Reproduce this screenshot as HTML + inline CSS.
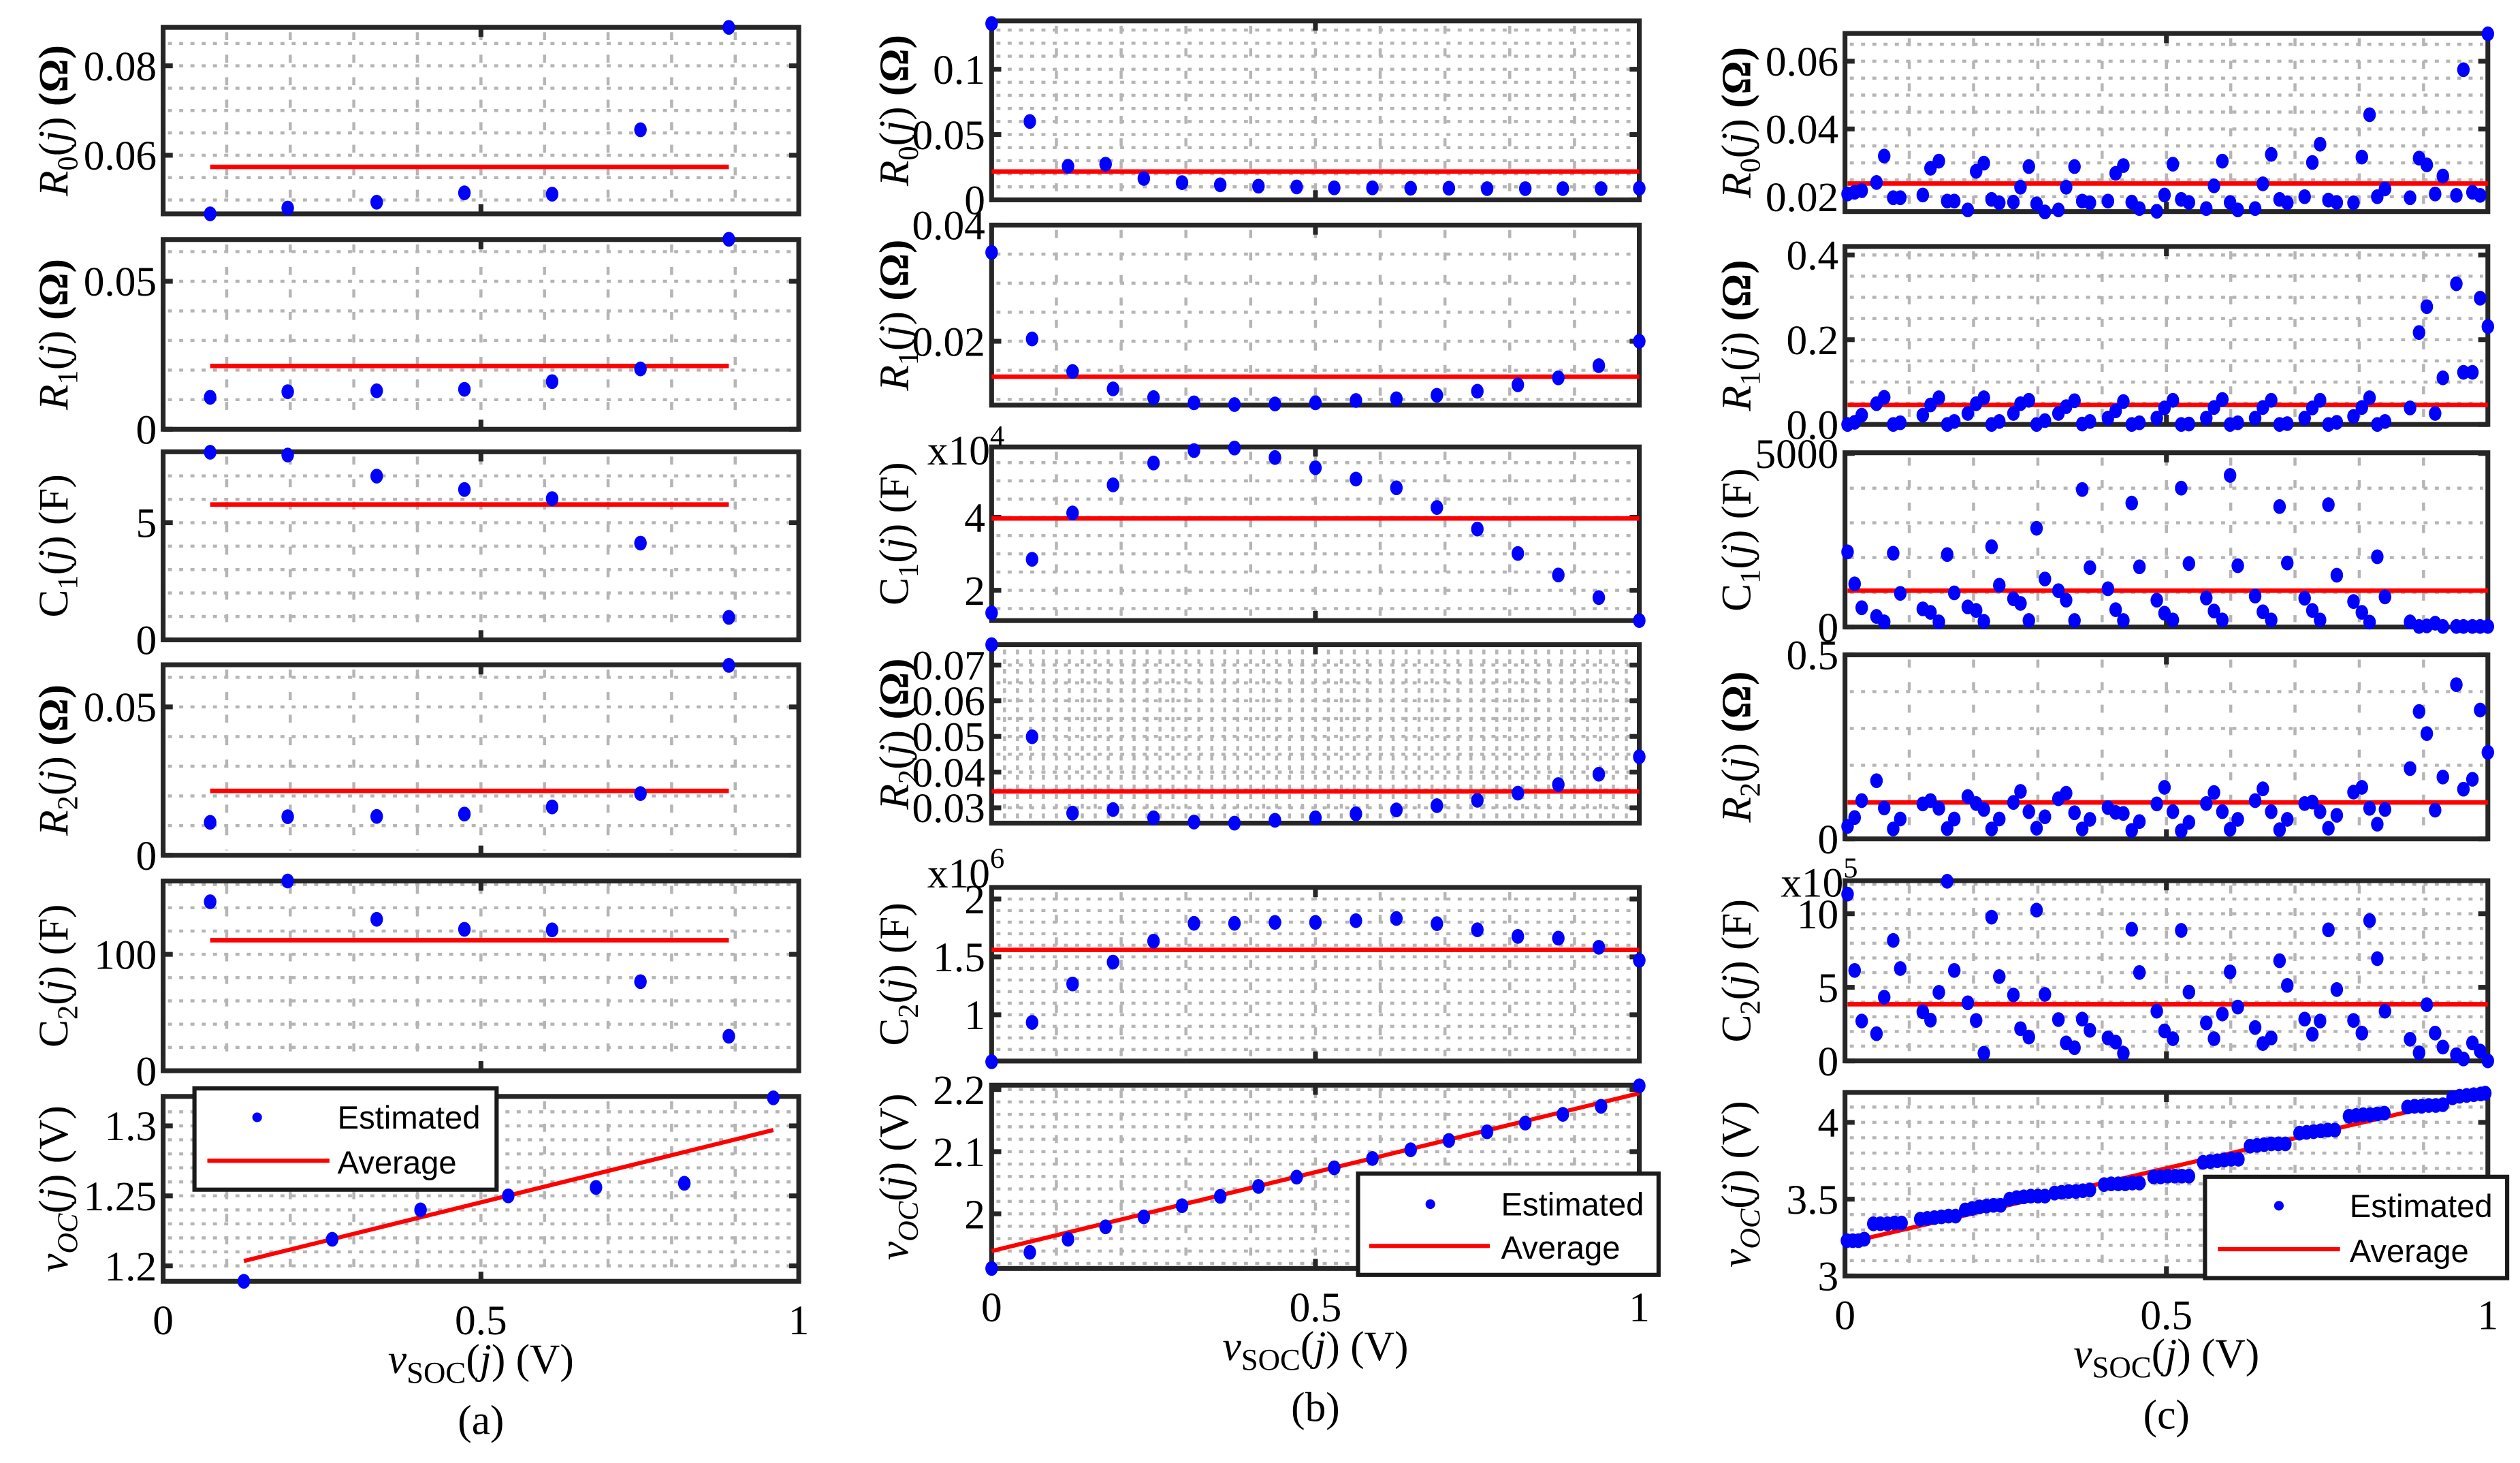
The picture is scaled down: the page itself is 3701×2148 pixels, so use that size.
<!DOCTYPE html>
<html><head><meta charset="utf-8"><title>Parameter estimation figure</title>
<style>
html,body{margin:0;padding:0;background:#fff;}
svg{display:block;}
text{font-family:"Liberation Serif",serif;fill:#000;}
.leg{font-family:"Liberation Sans",sans-serif;font-size:20px;}
</style></head>
<body>
<svg id="fig" xmlns="http://www.w3.org/2000/svg" width="3701" height="2148" viewBox="0 0 1568 910"></svg>
<script>
// ---------- data: column (a) ----------
const xA  = [0.074,0.196,0.336,0.474,0.612,0.751,0.890];
const xA6 = [0.127,0.266,0.405,0.543,0.681,0.820,0.960];
const a1Y = [0.0469,0.0482,0.0495,0.0516,0.0513,0.0657,0.0886];
const a2Y = [0.0108,0.0127,0.0130,0.0135,0.0161,0.0204,0.0642];
const a3Y = [8.01,7.89,6.99,6.42,6.03,4.13,0.96];
const a4Y = [0.0111,0.0130,0.0131,0.0139,0.0163,0.0208,0.0640];
const a5Y = [145.2,163,130.1,121.5,121,76.5,29.6];
const a6Y = [1.189,1.219,1.240,1.250,1.256,1.259,1.320];
const aAvg = [0.0574,0.0214,5.78,0.0217,112.1];
const a6AvgX = [0.127,0.960];
const a6AvgY = [1.2035,1.297];
// ---------- data: column (b) ----------
const xB18 = [0,0.059,0.118,0.176,0.235,0.294,0.353,0.412,0.471,0.529,0.588,0.647,0.706,0.765,0.824,0.882,0.941,1];
const xB17 = [0,0.0625,0.125,0.1875,0.25,0.3125,0.375,0.4375,0.5,0.5625,0.625,0.6875,0.75,0.8125,0.875,0.9375,1];
const b1Y = [0.135,0.060,0.0257,0.0273,0.0164,0.0132,0.0115,0.0105,0.0099,0.0092,0.0092,0.0089,0.0089,0.0086,0.0086,0.0086,0.0086,0.0089];
const b2Y = [0.0353,0.0204,0.0148,0.0118,0.0103,0.0094,0.0091,0.0092,0.0094,0.0098,0.0101,0.0107,0.0114,0.0125,0.0137,0.0158,0.0200];
const b3Y = [1.38,2.85,4.12,4.89,5.49,5.83,5.90,5.64,5.36,5.05,4.81,4.27,3.68,3.01,2.42,1.80,1.17];
const b4Y = [0.0757,0.0499,0.0285,0.0295,0.0272,0.0260,0.0257,0.0265,0.0272,0.0283,0.0294,0.0306,0.0321,0.0341,0.0365,0.0394,0.0443];
const b5Y = [0.594,0.934,1.266,1.455,1.636,1.79,1.79,1.798,1.798,1.813,1.832,1.787,1.734,1.677,1.662,1.583,1.47];
const b6Y = [1.912,1.938,1.959,1.979,1.995,2.013,2.028,2.044,2.059,2.074,2.089,2.103,2.118,2.132,2.146,2.160,2.173,2.206];
const bAvg = [0.0217,0.0139,3.97,0.0346,1.56];
const b6AvgX = [0,1];
const b6AvgY = [1.940,2.194];
// ---------- data: column (c) ----------
const xC = [0.004,0.015,0.026,0.049,0.061,0.075,0.086,0.121,0.133,0.146,0.159,0.170,0.191,0.204,0.216,0.228,0.240,0.262,0.273,0.286,0.298,0.311,0.332,0.344,0.357,0.369,0.381,0.409,0.421,0.433,0.446,0.458,0.485,0.497,0.510,0.523,0.535,0.562,0.574,0.587,0.599,0.611,0.638,0.650,0.663,0.676,0.688,0.715,0.727,0.739,0.752,0.765,0.791,0.804,0.816,0.828,0.840,0.879,0.893,0.905,0.918,0.930,0.951,0.962,0.976,0.988,1.0];
const c1Y = [0.0208,0.0213,0.0218,0.0242,0.032,0.0197,0.0197,0.0205,0.0284,0.0305,0.0187,0.0187,0.0161,0.0275,0.0299,0.0192,0.0182,0.0184,0.0228,0.0289,0.0179,0.0155,0.0161,0.0228,0.0289,0.0187,0.0182,0.0187,0.0269,0.0292,0.0184,0.0165,0.0157,0.0205,0.0296,0.0192,0.0183,0.0165,0.0232,0.0305,0.0183,0.0161,0.0165,0.0238,0.0325,0.0192,0.0182,0.0200,0.0301,0.0355,0.0190,0.0183,0.0182,0.0317,0.0442,0.0200,0.0223,0.0197,0.0314,0.0294,0.0208,0.0261,0.0204,0.0575,0.0213,0.0204,0.0681];
const c2Y = [0,0.005,0.022,0.049,0.064,0,0.004,0.022,0.046,0.063,0,0.007,0.026,0.049,0.063,0,0.007,0.026,0.049,0.057,0,0.009,0.026,0.042,0.056,0.001,0.007,0.015,0.032,0.054,0,0.004,0.015,0.039,0.057,0,0.001,0.015,0.040,0.059,0,0.004,0.015,0.040,0.057,0,0.002,0.015,0.039,0.057,0,0.005,0.019,0.040,0.063,0,0.007,0.039,0.217,0.278,0.026,0.110,0.332,0.123,0.123,0.298,0.231];
const c3Y = [2164,1242,555,305,148,2125,969,523,422,148,2086,984,578,477,164,2313,1203,813,680,188,2844,1383,1047,773,188,3961,1711,1102,500,188,3570,1734,773,398,203,4000,1828,836,461,203,4367,1766,891,438,203,3469,1844,828,477,203,3523,1492,734,422,141,2023,867,148,16,31,109,16,16,16,16,16,16];
const c4Y = [0.034,0.058,0.104,0.158,0.084,0.027,0.054,0.095,0.104,0.083,0.028,0.054,0.115,0.096,0.080,0.027,0.054,0.099,0.129,0.074,0.029,0.060,0.109,0.124,0.071,0.027,0.053,0.085,0.072,0.069,0.023,0.047,0.095,0.140,0.074,0.022,0.045,0.096,0.126,0.074,0.026,0.053,0.104,0.136,0.074,0.025,0.053,0.096,0.100,0.074,0.029,0.064,0.127,0.140,0.083,0.040,0.080,0.191,0.346,0.286,0.078,0.168,0.419,0.135,0.162,0.350,0.235];
const c5Y = [11.34,6.15,2.71,1.85,4.33,8.19,6.28,3.34,2.77,4.66,12.21,6.15,3.95,2.75,0.52,9.77,5.73,4.48,2.19,1.62,10.25,4.52,2.81,1.22,0.90,2.84,2.08,1.56,1.28,0.52,8.95,6.01,3.38,2.04,1.51,8.87,4.68,2.58,1.51,3.19,6.05,3.66,2.27,1.18,1.56,6.81,5.13,2.84,1.81,2.71,8.91,4.85,2.75,1.89,9.54,6.95,3.38,1.47,0.55,3.82,1.89,0.94,0.42,0.13,1.22,0.67,0];
const xC6 = [0.003,0.012,0.021,0.030,0.044,0.055,0.066,0.077,0.088,0.117,0.128,0.139,0.150,0.161,0.172,0.187,0.198,0.209,0.220,0.231,0.242,0.256,0.267,0.278,0.289,0.300,0.311,0.326,0.337,0.348,0.359,0.370,0.381,0.403,0.414,0.425,0.436,0.447,0.458,0.480,0.491,0.502,0.513,0.524,0.535,0.557,0.568,0.579,0.590,0.601,0.612,0.630,0.641,0.652,0.663,0.674,0.685,0.707,0.718,0.729,0.740,0.751,0.762,0.784,0.795,0.806,0.817,0.828,0.839,0.875,0.886,0.897,0.908,0.919,0.930,0.945,0.956,0.967,0.978,0.989,0.996];
const c6Y = [3.23,3.23,3.23,3.24,3.34,3.34,3.34,3.345,3.345,3.37,3.375,3.38,3.385,3.39,3.39,3.43,3.44,3.45,3.455,3.46,3.46,3.50,3.51,3.515,3.52,3.52,3.52,3.54,3.545,3.55,3.55,3.555,3.56,3.595,3.60,3.60,3.60,3.605,3.605,3.645,3.645,3.65,3.65,3.65,3.65,3.74,3.745,3.75,3.755,3.76,3.76,3.845,3.85,3.855,3.86,3.86,3.86,3.93,3.935,3.94,3.945,3.95,3.95,4.04,4.045,4.05,4.05,4.055,4.06,4.10,4.105,4.105,4.11,4.11,4.115,4.16,4.17,4.175,4.18,4.185,4.19];
const cAvg = [0.0239,0.046,1047,0.099,3.85];
const c6AvgX = [0,1];
const c6AvgY = [3.213,4.19];
// ---------- tick labels ----------
const xTickVals = [0,0.5,1];
const xTickLabels = ['0','0.5','1'];

// ---------- layout ----------
const NS = 'http://www.w3.org/2000/svg';
const svg = document.getElementById('fig');
const COLS = {
  A:{x0:101.5,x1:497,lx:33,letter:'(a)'},
  B:{x0:617,x1:1020,lx:556,letter:'(b)'},
  C:{x0:1148,x1:1548,lx:1080,letter:'(c)'}
};
const LBL = {
  R0:'<tspan font-style="italic">R</tspan><tspan font-size="18" dy="6">0</tspan><tspan dy="-6">(</tspan><tspan font-style="italic">j</tspan>) <tspan font-weight="bold">(Ω)</tspan>',
  R1:'<tspan font-style="italic">R</tspan><tspan font-size="18" dy="6">1</tspan><tspan dy="-6">(</tspan><tspan font-style="italic">j</tspan>) <tspan font-weight="bold">(Ω)</tspan>',
  R2:'<tspan font-style="italic">R</tspan><tspan font-size="18" dy="6">2</tspan><tspan dy="-6">(</tspan><tspan font-style="italic">j</tspan>) <tspan font-weight="bold">(Ω)</tspan>',
  C1:'C<tspan font-size="18" dy="6">1</tspan><tspan dy="-6">(</tspan><tspan font-style="italic">j</tspan>)  (F)',
  C2:'C<tspan font-size="18" dy="6">2</tspan><tspan dy="-6">(</tspan><tspan font-style="italic">j</tspan>)  (F)',
  V:'<tspan font-style="italic">v</tspan><tspan font-size="18" font-style="italic" dy="6">OC</tspan><tspan dy="-6">(</tspan><tspan font-style="italic">j</tspan>)  (V)'
};
const panels = [
 {id:'a-r0',col:'A',top:17,bot:133,ymin:0.0469,ymax:0.0886,ticks:[0.06,0.08],tl:['0.06','0.08'],minor:0.005,xs:xA,ys:a1Y,avg:aAvg[0],lab:'R0'},
 {id:'a-r1',col:'A',top:149,bot:267,ymin:0,ymax:0.0641,ticks:[0,0.05],tl:['0','0.05'],minor:0.01,xs:xA,ys:a2Y,avg:aAvg[1],lab:'R1'},
 {id:'a-c1',col:'A',top:281,bot:398,ymin:0,ymax:8.03,ticks:[0,5],tl:['0','5'],minor:1,xs:xA,ys:a3Y,avg:aAvg[2],lab:'C1'},
 {id:'a-r2',col:'A',top:413.5,bot:532,ymin:0,ymax:0.0642,ticks:[0,0.05],tl:['0','0.05'],minor:0.01,xs:xA,ys:a4Y,avg:aAvg[3],lab:'R2'},
 {id:'a-c2',col:'A',top:548,bot:666,ymin:0,ymax:163,ticks:[0,100],tl:['0','100'],minor:20,xs:xA,ys:a5Y,avg:aAvg[4],lab:'C2'},
 {id:'a-voc',col:'A',top:682,bot:797,ymin:1.189,ymax:1.321,ticks:[1.2,1.25,1.3],tl:['1.2','1.25','1.3'],minor:0.01,xs:xA6,ys:a6Y,avgX:a6AvgX,avgY:a6AvgY,lab:'V',bottom:true},
 {id:'b-r0',col:'B',top:13,bot:124.3,ymin:0,ymax:0.137,ticks:[0,0.05,0.1],tl:['0','0.05','0.1'],minor:0.01,xs:xB18,ys:b1Y,avg:bAvg[0],lab:'R0'},
 {id:'b-r1',col:'B',top:140,bot:252,ymin:0.009,ymax:0.04,ticks:[0.02,0.04],tl:['0.02','0.04'],minor:0.005,xs:xB17,ys:b2Y,avg:bAvg[1],lab:'R1'},
 {id:'b-c1',col:'B',top:278,bot:386,ymin:1.17,ymax:5.93,ticks:[2,4],tl:['2','4'],minor:0.5,xs:xB17,ys:b3Y,avg:bAvg[2],lab:'C1',mult:['x10','4'],multDy:11},
 {id:'b-r2',col:'B',top:401,bot:512,ymin:0.0257,ymax:0.0757,ticks:[0.03,0.04,0.05,0.06,0.07],tl:['0.03','0.04','0.05','0.06','0.07'],minor:0.005,xs:xB17,ys:b4Y,avg:bAvg[3],lab:'R2',dense:true},
 {id:'b-c2',col:'B',top:552,bot:660,ymin:0.6,ymax:2.1,ticks:[1,1.5,2],tl:['1','1.5','2'],minor:0.1,xs:xB17,ys:b5Y,avg:bAvg[4],lab:'C2',mult:['x10','6'],multDy:0},
 {id:'b-voc',col:'B',top:675,bot:789,ymin:1.912,ymax:2.207,ticks:[2,2.1,2.2],tl:['2','2.1','2.2'],minor:0.02,xs:xB18,ys:b6Y,avgX:b6AvgX,avgY:b6AvgY,lab:'V',bottom:true},
 {id:'c-r0',col:'C',top:20.8,bot:131.6,ymin:0.0156,ymax:0.0682,ticks:[0.02,0.04,0.06],tl:['0.02','0.04','0.06'],minor:0.005,xs:xC,ys:c1Y,avg:cAvg[0],lab:'R0'},
 {id:'c-r1',col:'C',top:153.3,bot:264,ymin:0,ymax:0.42,ticks:[0,0.2,0.4],tl:['0.0','0.2','0.4'],minor:0.05,xs:xC,ys:c2Y,avg:cAvg[1],lab:'R1'},
 {id:'c-c1',col:'C',top:281.6,bot:390,ymin:0,ymax:5020,ticks:[0,5000],tl:['0','5000'],minor:1000,xs:xC,ys:c3Y,avg:cAvg[2],lab:'C1'},
 {id:'c-r2',col:'C',top:407.3,bot:521.8,ymin:0,ymax:0.5,ticks:[0,0.5],tl:['0','0.5'],minor:0.1,xs:xC,ys:c4Y,avg:cAvg[3],lab:'R2'},
 {id:'c-c2',col:'C',top:547.8,bot:659.9,ymin:0,ymax:12.25,ticks:[0,5,10],tl:['0','5','10'],minor:1,xs:xC,ys:c5Y,avg:cAvg[4],lab:'C2',mult:['x10','5'],multDy:10},
 {id:'c-voc',col:'C',top:679.5,bot:793.7,ymin:3,ymax:4.195,ticks:[3,3.5,4],tl:['3','3.5','4'],minor:0.1,xs:xC6,ys:c6Y,avgX:c6AvgX,avgY:c6AvgY,lab:'V',bottom:true}
];

function mk(tag, parent, attrs){
  const e = document.createElementNS(NS, tag);
  for (const k in attrs) e.setAttribute(k, attrs[k]);
  parent.appendChild(e);
  return e;
}

panels.forEach(function(p){
  const c = COLS[p.col];
  const sx = function(v){ return c.x0 + v*(c.x1-c.x0); };
  const sy = function(v){ return p.bot - (v-p.ymin)/(p.ymax-p.ymin)*(p.bot-p.top); };
  const g = mk('g', svg, {});
  
  

  // grid
  const grid = mk('g', g, {stroke:'#b5b5b5','stroke-width':1.9,fill:'none'});
  
  
  const vstep = p.dense ? 0.02 : 0.1;
  for (let v = vstep; v < 0.999; v += vstep){
    mk('line', grid, {x1:sx(v),x2:sx(v),y1:p.top+3,y2:p.bot-3,'stroke-dasharray':p.dense?'3 3':'5 9'});
  }
  const start = Math.ceil(p.ymin/p.minor - 1e-6)*p.minor;
  for (let v = start; v < p.ymax - 1e-9; v += p.minor){
    const y = sy(v);
    if (y > p.bot-2 || y < p.top+2) continue;
    mk('line', grid, {x1:c.x0+3,x2:c.x1-3,y1:y,y2:y,'stroke-dasharray':'2.5 4.5'});
  }

  // frame
  const fr = mk('rect', g, {x:c.x0,y:p.top,width:c.x1-c.x0,height:p.bot-p.top,fill:'none',stroke:'#262626','stroke-width':3});
  
  
  // tick marks + labels
  p.ticks.forEach(function(t, i){
    const y = sy(t);
    mk('line', g, {x1:c.x0,x2:c.x0+6,y1:y,y2:y,stroke:'#262626','stroke-width':3});
    mk('line', g, {x1:c.x1-6,x2:c.x1,y1:y,y2:y,stroke:'#262626','stroke-width':3});
    const tx = mk('text', g, {x:c.x0-4,y:y+9,'text-anchor':'end','font-size':26});
    tx.textContent = p.tl[i];
    
    
  });
  mk('line', g, {x1:sx(0.5),x2:sx(0.5),y1:p.top,y2:p.top+6,stroke:'#262626','stroke-width':3});
  mk('line', g, {x1:sx(0.5),x2:sx(0.5),y1:p.bot-6,y2:p.bot,stroke:'#262626','stroke-width':3});

  // multiplier
  if (p.mult){
    const mt = mk('text', g, {x:c.x0-40,y:p.top+p.multDy,'font-size':26});
    mt.innerHTML = p.mult[0] + '<tspan font-size="18" dy="-12">' + p.mult[1] + '</tspan>';
    
    
  }

  // y label
  const yl = mk('text', g, {x:0,y:0,'font-size':26,'text-anchor':'middle',transform:'translate(' + (c.lx+9) + ',' + ((p.top+p.bot)/2) + ') rotate(-90)'});
  yl.innerHTML = LBL[p.lab];
  
  

  // average line
  let al;
  if (p.avgX){
    al = mk('line', g, {x1:sx(p.avgX[0]),y1:sy(p.avgY[0]),x2:sx(p.avgX[1]),y2:sy(p.avgY[1]),stroke:'#ff0000','stroke-width':2.6});
  } else {
    al = mk('line', g, {x1:sx(p.xs[0]),y1:sy(p.avg),x2:sx(p.xs[p.xs.length-1]),y2:sy(p.avg),stroke:'#ff0000','stroke-width':2.8});
  }
  
  

  // points
  const n = Math.min(p.xs.length, p.ys.length);
  for (let i = 0; i < n; i++){
    const d = mk('ellipse', g, {cx:sx(p.xs[i]),cy:sy(p.ys[i]),rx:3.9,ry:4.6,fill:'#0000ff'});
    
    
  }

  // bottom x axis labels
  if (p.bottom){
    xTickVals.forEach(function(v, i){
      const t = mk('text', g, {x:sx(v),y:p.bot+33,'text-anchor':'middle','font-size':26});
      t.textContent = xTickLabels[i];
      
      
    });
    const xl = mk('text', g, {x:(c.x0+c.x1)/2,y:p.bot+57,'text-anchor':'middle','font-size':26});
    xl.innerHTML = '<tspan font-style="italic">v</tspan><tspan font-size="19" dy="6">SOC</tspan><tspan dy="-6">(</tspan><tspan font-style="italic">j</tspan>) (V)';
    
    
    const cap = mk('text', g, {x:(c.x0+c.x1)/2,y:p.bot+95,'text-anchor':'middle','font-size':26});
    cap.textContent = c.letter;
    
    
  }
});

// legends
const legends = [
  {id:'a',x:121,y:677,w:188,h:63,dotX:160,estY:702,lineX1:129,lineX2:205,avgY:730,textX:210},
  {id:'b',x:845,y:730,w:187,h:63,dotX:890,estY:756,lineX1:852,lineX2:927,avgY:783,textX:934},
  {id:'c',x:1372,y:732,w:188,h:63,dotX:1418,estY:757,lineX1:1380,lineX2:1456,avgY:785,textX:1462}
];
legends.forEach(function(L){
  const g = mk('g', svg, {});
  
  
  mk('rect', g, {x:L.x,y:L.y,width:L.w,height:L.h,fill:'#fff',stroke:'#1a1a1a','stroke-width':2.6});
  const dot = mk('circle', g, {cx:L.dotX,cy:L.estY-7,r:3,fill:'#0000ff'});
  
  
  const t1 = mk('text', g, {x:L.textX,y:L.estY,'class':'leg'});
  t1.textContent = 'Estimated';
  
  
  const ln = mk('line', g, {x1:L.lineX1,x2:L.lineX2,y1:L.avgY-8,y2:L.avgY-8,stroke:'#ff0000','stroke-width':2.6});
  
  
  const t2 = mk('text', g, {x:L.textX,y:L.avgY,'class':'leg'});
  t2.textContent = 'Average';
  
  
});
</script>
</body></html>
